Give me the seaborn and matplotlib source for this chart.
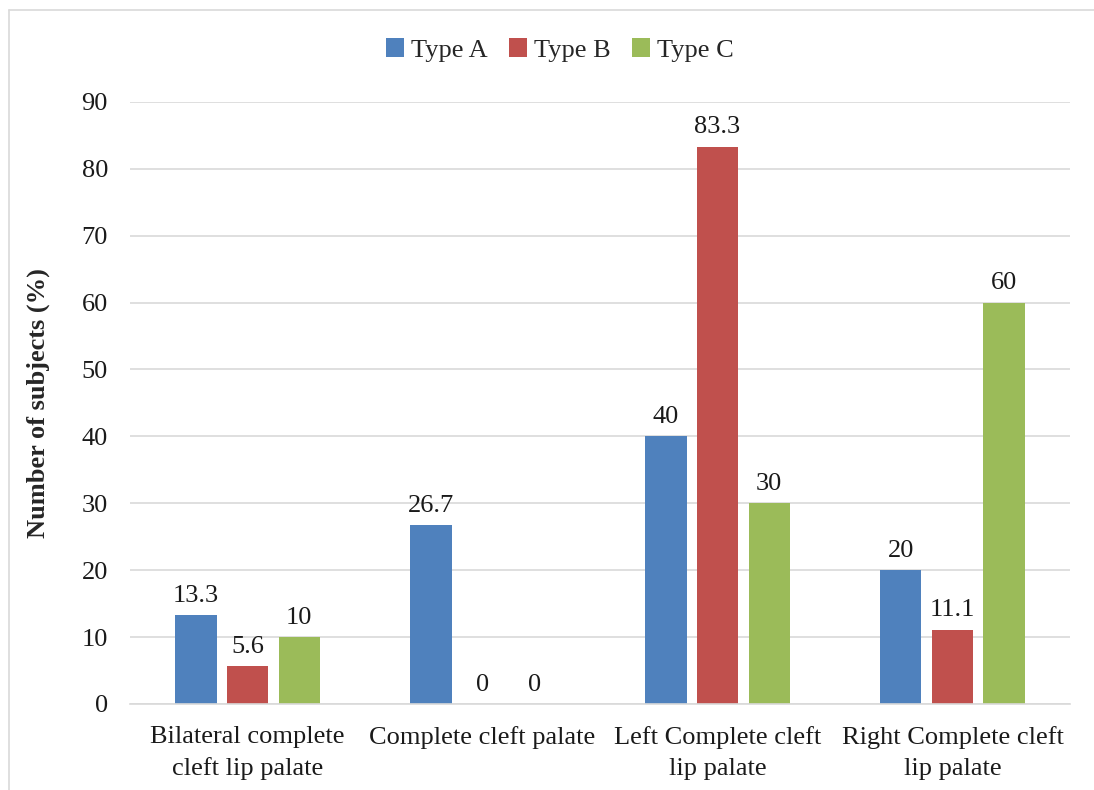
import pandas as pd
import matplotlib.pyplot as plt
import seaborn as sns
from matplotlib.lines import Line2D

categories = ["Bilateral complete\ncleft lip palate", "Complete cleft palate",
              "Left Complete cleft\nlip palate", "Right Complete cleft\nlip palate"]
types = ["Type A", "Type B", "Type C"]
type_a = [13.3, 26.7, 40, 20]
type_b = [5.6, 0, 83.3, 11.1]
type_c = [10, 0, 30, 60]
labels_a = ["13.3", "26.7", "40", "20"]
labels_b = ["5.6", "0", "83.3", "11.1"]
labels_c = ["10", "0", "30", "60"]

df = pd.DataFrame({
    "Category": categories * 3,
    "Type": [t for t in types for _ in categories],
    "Value": type_a + type_b + type_c,
})

sns.set_style("white")
plt.rcParams["font.family"] = ["Liberation Serif", "DejaVu Serif"]

fs = 19
fig = plt.figure(figsize=(10.94, 7.90), dpi=100)
ax = fig.add_axes([0.119, 0.109, 0.859, 0.762])

palette = ["#4F81BD", "#C0504D", "#9BBB59"]
sns.barplot(data=df, x="Category", y="Value", hue="Type", palette=palette,
            width=0.66, gap=0.2, ax=ax, saturation=1, errorbar=None,
            linewidth=0)

for cont, labs in zip(ax.containers, [labels_a, labels_b, labels_c]):
    ax.bar_label(cont, labels=labs, padding=6, fontsize=fs, color="#1a1a1a")

ax.set_ylim(0, 90)
ax.set_xlim(-0.5, 3.5)
ax.set_yticks(range(0, 91, 10))
ax.yaxis.grid(True, color="#D9D9D9", linewidth=1.2)
ax.set_axisbelow(True)
for s in ["top", "right", "left"]:
    ax.spines[s].set_visible(False)
ax.spines["bottom"].set_color("#D9D9D9")
ax.spines["bottom"].set_linewidth(1.2)
ax.tick_params(axis="both", length=0, labelsize=fs, colors="#1a1a1a")
ax.tick_params(axis="y", pad=16)
ax.tick_params(axis="x", pad=16)
for t in ax.get_xticklabels():
    t.set_linespacing(1.5)
ax.set_xlabel("")
ax.set_ylabel("Number of subjects (%)", fontsize=fs, fontweight="bold", labelpad=23)

leg = ax.legend(loc="center", bbox_to_anchor=(0.457, 1.086), ncol=3, frameon=False,
                fontsize=fs, handlelength=0.7, handleheight=0.7,
                handletextpad=0.25, columnspacing=0.8)

fig.add_artist(Line2D([9 / 1094, 1], [1 - 10 / 790, 1 - 10 / 790],
                      transform=fig.transFigure, color="#D9D9D9", linewidth=1.2))
fig.add_artist(Line2D([9 / 1094, 9 / 1094], [0, 1 - 10 / 790],
                      transform=fig.transFigure, color="#D9D9D9", linewidth=1.2))

fig.savefig("out.png", dpi=100)
